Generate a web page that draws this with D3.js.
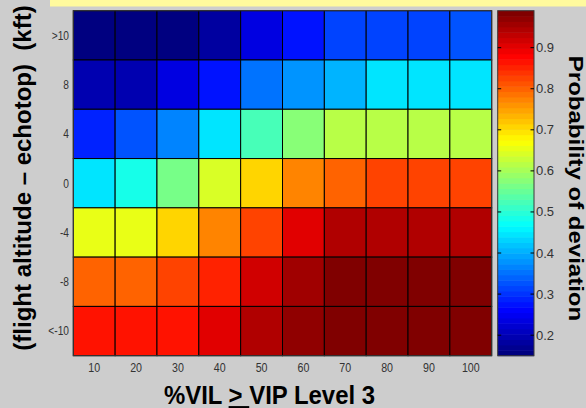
<!DOCTYPE html>
<html lang="en">
<head>
<meta charset="UTF-8">
<title>Probability of deviation heat map</title>
<script src="https://d3js.org/d3.v7.min.js"></script>
<style>
    body { margin: 0; background: #cdcdcd; }
    svg { display: block; font-family: "Liberation Sans", Arial, sans-serif; }
    .tick { font-size: 13px; fill: #333; }
    .title { font-weight: bold; fill: #000; }
</style>
</head>
<body>
<svg id="chart" width="586" height="408"></svg>
<script>
    // categories
    const vilLevels = ["10", "20", "30", "40", "50", "60", "70", "80", "90", "100"];
    const altBins = [">10", "8", "4", "0", "-4", "-8", "<-10"];

    // probability of deviation, one array per altitude bin (top to bottom)
    const probGt10 = [0.15, 0.15, 0.15, 0.18, 0.23, 0.27, 0.32, 0.32, 0.32, 0.33];
    const prob8    = [0.19, 0.20, 0.24, 0.28, 0.35, 0.38, 0.41, 0.44, 0.44, 0.44];
    const prob4    = [0.29, 0.33, 0.37, 0.45, 0.52, 0.57, 0.62, 0.62, 0.62, 0.62];
    const prob0    = [0.45, 0.49, 0.56, 0.64, 0.71, 0.77, 0.80, 0.83, 0.83, 0.83];
    const probM4   = [0.65, 0.66, 0.71, 0.77, 0.83, 0.90, 0.94, 0.95, 0.95, 0.95];
    const probM8   = [0.80, 0.80, 0.83, 0.85, 0.92, 0.96, 0.99, 0.99, 0.98, 0.98];
    const probLtM10 = [0.87, 0.87, 0.87, 0.90, 0.94, 0.97, 0.98, 0.98, 0.98, 0.98];

    const colorbarTicks = [0.2, 0.3, 0.4, 0.5, 0.6, 0.7, 0.8, 0.9];

    const rows = [probGt10, prob8, prob4, prob0, probM4, probM8, probLtM10];
    const cells = [];
    rows.forEach((r, i) => r.forEach((v, j) => cells.push({ alt: altBins[i], vil: vilLevels[j], value: v })));

    // matlab style jet, 64 steps
    function jet(t) {
        const c = x => Math.max(0, Math.min(1, x));
        const r = c(1.5 - Math.abs(4 * t - 3));
        const g = c(1.5 - Math.abs(4 * t - 2));
        const b = c(1.5 - Math.abs(4 * t - 1));
        return d3.rgb(r * 255, g * 255, b * 255).formatHex();
    }
    const jetColors = d3.range(64).map(i => jet(i / 63));

    const plot = { left: 73.3, right: 491.7, top: 10.7, bottom: 355.7 };
    const cbar = { left: 497.7, right: 534 };

    const svg = d3.select("#chart");

    // yellow strip at the top of the slide
    svg.append("rect").attr("x", 50).attr("y", 0).attr("width", 536).attr("height", 6.5).attr("fill", "#fffa9e");

    const x = d3.scaleBand().domain(vilLevels).range([plot.left, plot.right]);
    const y = d3.scaleBand().domain(altBins).range([plot.top, plot.bottom]);

    const extent = d3.extent(cells, d => d.value);
    const color = d3.scaleQuantize().domain(extent).range(jetColors);

    svg.append("g").selectAll("rect")
        .data(cells)
        .join("rect")
        .attr("x", d => x(d.vil))
        .attr("y", d => y(d.alt))
        .attr("width", x.bandwidth())
        .attr("height", y.bandwidth())
        .attr("fill", d => color(d.value))
        .attr("stroke", "#000")
        .attr("stroke-width", 1);

    svg.append("rect")
        .attr("x", plot.left).attr("y", plot.top)
        .attr("width", plot.right - plot.left).attr("height", plot.bottom - plot.top)
        .attr("fill", "none").attr("stroke", "#3a3a3a");

    // tick labels
    svg.append("g").selectAll("text")
        .data(altBins)
        .join("text")
        .attr("class", "tick")
        .attr("text-anchor", "end")
        .attr("dominant-baseline", "central")
        .attr("transform", d => `translate(69,${y(d) + y.bandwidth() / 2}) scale(0.85,1)`)
        .style("font-size", "12px")
        .text(d => d);

    svg.append("g").selectAll("text")
        .data(vilLevels)
        .join("text")
        .attr("class", "tick")
        .attr("text-anchor", "middle")
        .attr("transform", d => `translate(${x(d) + x.bandwidth() / 2},371.5) scale(0.82,1)`)
        .text(d => d);

    // colorbar
    const cy = d3.scaleLinear().domain(extent).range([plot.bottom, plot.top]);
    const step = (extent[1] - extent[0]) / jetColors.length;
    svg.append("g").selectAll("rect")
        .data(jetColors)
        .join("rect")
        .attr("x", cbar.left)
        .attr("width", cbar.right - cbar.left)
        .attr("y", (c, i) => cy(extent[0] + (i + 1) * step))
        .attr("height", cy(extent[0]) - cy(extent[0] + step) + 0.5)
        .attr("fill", c => c);

    svg.append("rect")
        .attr("x", cbar.left).attr("y", plot.top)
        .attr("width", cbar.right - cbar.left).attr("height", plot.bottom - plot.top)
        .attr("fill", "none").attr("stroke", "#3a3a3a");

    const cbTicks = svg.append("g").selectAll("g")
        .data(colorbarTicks)
        .join("g")
        .attr("transform", d => `translate(0,${cy(d)})`);
    cbTicks.append("line").attr("x1", cbar.left).attr("x2", cbar.left + 3.5).attr("stroke", "#000");
    cbTicks.append("line").attr("x1", cbar.right - 3.5).attr("x2", cbar.right).attr("stroke", "#000");
    cbTicks.append("text")
        .attr("class", "tick")
        .attr("x", cbar.right + 2)
        .attr("dominant-baseline", "central")
        .text(d => d3.format(".1f")(d));

    // axis titles
    svg.append("text")
        .attr("class", "title")
        .attr("text-anchor", "middle")
        .attr("transform", "translate(31,178) rotate(-90)")
        .style("font-size", "24px")
        .text("(flight altitude \u2013 echotop)\u00a0 (kft)");

    svg.append("text")
        .attr("class", "title")
        .attr("text-anchor", "middle")
        .attr("transform", "translate(569,188.5) rotate(90) scale(1,0.82)")
        .style("font-size", "24px")
        .text("Probability of deviation");

    const xt = svg.append("text")
        .attr("class", "title")
        .attr("text-anchor", "middle")
        .attr("transform", "translate(269.5,404) scale(0.92,1)")
        .style("font-size", "26px");
    xt.append("tspan").text("%VIL ");
    xt.append("tspan").style("text-decoration", "underline").text(">\u00a0");
    xt.append("tspan").text("VIP Level 3");
</script>
</body>
</html>
